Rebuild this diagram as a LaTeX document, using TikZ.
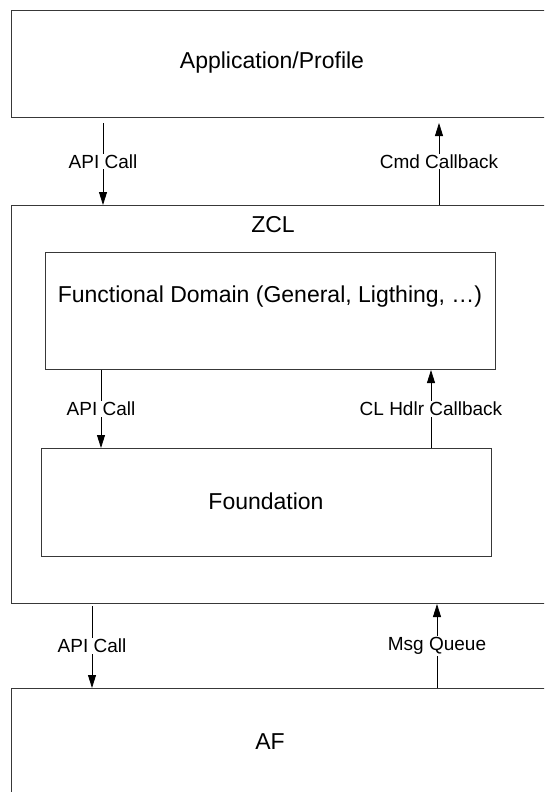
\documentclass[tikz,border=0pt]{standalone}
\usepackage{fontspec}
\setmainfont{Liberation Sans}
\usetikzlibrary{arrows.meta,calc}
\begin{document}
\begin{tikzpicture}[x=1pt,y=-1pt,
  box/.style={draw=black!78, line width=1pt, inner sep=0pt, anchor=north west},
  big/.style={font=\fontsize{23}{27}\selectfont},
  lbl/.style={font=\fontsize{19}{22}\selectfont, fill=white, inner sep=1pt},
  arr/.style={draw=black, line width=0.8pt, -{Triangle[length=13pt,width=8pt]}}]
\useasboundingbox (0,0) rectangle (544,792);
\clip (0,0) rectangle (544,792);
% boxes
\node[box, minimum width=549pt, minimum height=107pt] (app) at (11,10) {};
\node[big] (apptxt) at (272,63) {Application/Profile};
\node[box, minimum width=549pt, minimum height=398pt] (zcl) at (11,205) {};
\node[big] (zcltxt) at (273,225) {ZCL};
\node[box, minimum width=450pt, minimum height=117pt] (func) at (45,252) {};
\node[big] (functxt) at (270,297) {Functional Domain (General, Ligthing, \dots)};
\node[box, minimum width=450pt, minimum height=108pt] (found) at (41,448) {};
\node[big] (foundtxt) at (266,501) {Foundation};
\node[box, minimum width=549pt, minimum height=120pt] (af) at (11,688) {};
\node[big] (aftxt) at (270,742) {AF};
% connectors
\coordinate (xa) at (103,0);
\coordinate (xb) at (439,0);
\coordinate (xc) at (101,0);
\coordinate (xd) at (431,0);
\coordinate (xe) at (92,0);
\coordinate (xf) at (437,0);
\draw[arr, shorten <=5pt] (app.south -| xa) -- node[lbl] {API Call} (zcl.north -| xa);
\draw[arr, shorten >=5pt] (zcl.north -| xb) -- node[lbl] {Cmd Callback} (app.south -| xb);
\draw[arr] (func.south -| xc) -- node[lbl] {API Call} (found.north -| xc);
\draw[arr] (found.north -| xd) -- node[lbl] {CL Hdlr Callback} (func.south -| xd);
\draw[arr, shorten <=2pt] (zcl.south -| xe) -- node[lbl] {API Call} (af.north -| xe);
\draw[arr] (af.north -| xf) -- node[lbl] {Msg Queue} (zcl.south -| xf);
\end{tikzpicture}
\end{document}
